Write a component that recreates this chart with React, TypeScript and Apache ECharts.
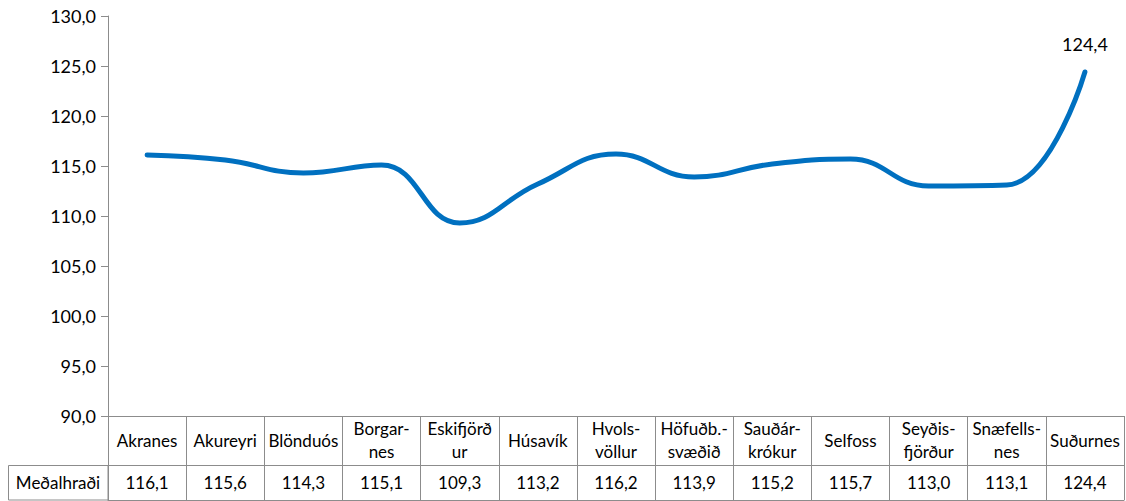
import React, { useEffect, useRef } from "react";
import * as echarts from "echarts";

const categories = [
  "Akranes",
  "Akureyri",
  "Blönduós",
  "Borgar-\nnes",
  "Eskifjörð\nur",
  "Húsavík",
  "Hvols-\nvöllur",
  "Höfuðb.-\nsvæðið",
  "Sauðár-\nkrókur",
  "Selfoss",
  "Seyðis-\nfjörður",
  "Snæfells-\nnes",
  "Suðurnes",
];
const values = [116.1, 115.6, 114.3, 115.1, 109.3, 113.2, 116.2, 113.9, 115.2, 115.7, 113.0, 113.1, 124.4];
const seriesName = "Meðalhraði";
const yMin = 90;
const yMax = 130;
const yStep = 5;

const fmt = (v: number) => v.toFixed(1).replace(".", ",");

const FONT = "Lato";
const GRID_LINE = "#8c8c8c";
const LINE_COLOR = "#0070C0";

export default function App() {
  const ref = useRef<HTMLDivElement>(null);
  useEffect(() => {
    if (!ref.current) return;
    const chart = echarts.init(ref.current, undefined, { renderer: "svg" });
    const lastIdx = values.length - 1;
    chart.setOption({
      animation: false,
      textStyle: { fontFamily: FONT },
      grid: { left: 108, right: 2, top: 16, bottom: 85, containLabel: false },
      yAxis: {
        type: "value",
        min: yMin,
        max: yMax,
        interval: yStep,
        axisLine: { show: true, lineStyle: { color: GRID_LINE, width: 1 } },
        axisTick: { show: true, length: 7, lineStyle: { color: GRID_LINE } },
        splitLine: { show: false },
        axisLabel: {
          formatter: (v: number) => fmt(v),
          color: "#000",
          fontSize: 18,
          fontFamily: FONT,
          margin: 12,
        },
      },
      xAxis: [
        {
          type: "category",
          data: categories,
          position: "bottom",
          boundaryGap: true,
          axisLine: { show: true, lineStyle: { color: GRID_LINE, width: 1 } },
          axisTick: { show: true, length: 84, lineStyle: { color: GRID_LINE } },
          axisLabel: {
            interval: 0,
            color: "#000",
            fontSize: 17,
            fontFamily: FONT,
            lineHeight: 23,
            verticalAlign: "middle",
            margin: 24,
          },
        },
        {
          type: "category",
          data: values.map(fmt),
          position: "bottom",
          offset: 49,
          boundaryGap: true,
          axisLine: { show: true, lineStyle: { color: GRID_LINE, width: 1 } },
          axisTick: { show: false },
          axisLabel: {
            interval: 0,
            color: "#000",
            fontSize: 17,
            fontFamily: FONT,
            verticalAlign: "middle",
            margin: 17,
          },
        },
        {
          type: "category",
          data: categories,
          position: "bottom",
          offset: 84,
          axisLine: { show: true, lineStyle: { color: GRID_LINE, width: 1 } },
          axisTick: { show: false },
          axisLabel: { show: false },
        },
      ],
      graphic: [
        {
          type: "rect",
          shape: { x: 8.5, y: 465.5, width: 99.5, height: 34.5 },
          style: { fill: "none", stroke: GRID_LINE, lineWidth: 1 },
        },
        {
          type: "text",
          x: 58,
          y: 482,
          style: {
            text: seriesName,
            fontSize: 17,
            fontFamily: FONT,
            fill: "#000",
            textAlign: "center",
            textVerticalAlign: "middle",
          },
        },
      ],
      series: [
        {
          name: seriesName,
          type: "line",
          xAxisIndex: 0,
          data: values.map((v, i) =>
            i === lastIdx
              ? {
                  value: v,
                  label: {
                    show: true,
                    position: "top",
                    distance: 18,
                    formatter: (p: any) => fmt(p.value),
                    fontSize: 18,
                    fontFamily: FONT,
                    color: "#000",
                  },
                }
              : v
          ),
          smooth: 0.45,
          showSymbol: true,
          symbol: "circle",
          symbolSize: 2,
          lineStyle: { color: LINE_COLOR, width: 5, cap: "round" },
          itemStyle: { color: LINE_COLOR },
        },
      ],
    });
    return () => chart.dispose();
  }, []);
  return (
    <div
      ref={ref}
      style={{ position: "absolute", left: 0, top: 0, width: 1126, height: 501, background: "#fff" }}
    />
  );
}
